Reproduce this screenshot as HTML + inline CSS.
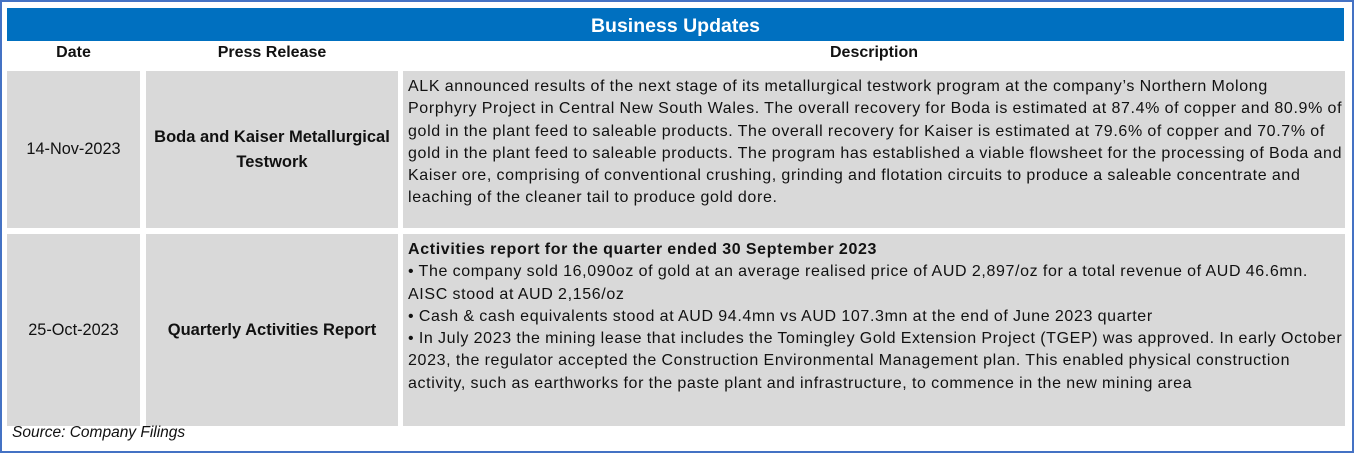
<!DOCTYPE html>
<html><head><meta charset="utf-8"><style>
*{box-sizing:border-box}
body{margin:0;width:1354px;height:453px;background:#fff;font-family:"Liberation Sans",Arial,sans-serif;color:#111;overflow:hidden;position:relative}
.frame{position:absolute;left:0;top:0;width:1354px;height:453px;border:2px solid #4472c4}
.hdr{position:absolute;left:7px;top:8px;width:1337px;height:33px;background:#0070c0;color:#fff;font-weight:bold;font-size:19.5px;text-align:center;line-height:36px}
.ch{position:absolute;top:44px;height:20px;font-weight:bold;font-size:16px;text-align:center}
.cell{position:absolute;background:#d9d9d9}
.c1{left:7px;width:133px}.c2{left:146px;width:252px}.c3{left:403px;width:942px}
.center{display:flex;align-items:center;justify-content:center;text-align:center;font-size:16.3px;line-height:25px}
.desc{font-size:16px;line-height:22.3px;padding:5px 0 0 5px;white-space:nowrap;letter-spacing:0.64px;word-spacing:-0.5px}
.src{position:absolute;left:12px;top:424px;font-size:15.5px;font-style:italic}
</style></head><body>
<div class="frame"></div>
<div class="hdr">Business Updates</div>
<div class="ch" style="left:7px;width:133px">Date</div>
<div class="ch" style="left:146px;width:252px">Press Release</div>
<div class="ch" style="left:403px;width:942px">Description</div>

<div class="cell c1 center" style="top:71px;height:157px">14-Nov-2023</div>
<div class="cell c2 center" style="top:71px;height:157px;font-weight:bold;font-size:16.5px">Boda and Kaiser Metallurgical<br>Testwork</div>
<div class="cell c3 desc" style="top:71px;height:157px">ALK announced results of the next stage of its metallurgical testwork program at the company’s Northern Molong<br>Porphyry Project in Central New South Wales. The overall recovery for Boda is estimated at 87.4% of copper and 80.9% of<br>gold in the plant feed to saleable products. The overall recovery for Kaiser is estimated at 79.6% of copper and 70.7% of<br>gold in the plant feed to saleable products. The program has established a viable flowsheet for the processing of Boda and<br>Kaiser ore, comprising of conventional crushing, grinding and flotation circuits to produce a saleable concentrate and<br>leaching of the cleaner tail to produce gold dore.</div>

<div class="cell c1 center" style="top:234px;height:192px">25-Oct-2023</div>
<div class="cell c2 center" style="top:234px;height:192px;font-weight:bold;font-size:16.5px">Quarterly Activities Report</div>
<div class="cell c3 desc" style="top:234px;height:192px"><b>Activities report for the quarter ended 30 September 2023</b><br>• The company sold 16,090oz of gold at an average realised price of AUD 2,897/oz for a total revenue of AUD 46.6mn.<br>AISC stood at AUD 2,156/oz<br>• Cash &amp; cash equivalents stood at AUD 94.4mn vs AUD 107.3mn at the end of June 2023 quarter<br>• In July 2023 the mining lease that includes the Tomingley Gold Extension Project (TGEP) was approved. In early October<br>2023, the regulator accepted the Construction Environmental Management plan. This enabled physical construction<br>activity, such as earthworks for the paste plant and infrastructure, to commence in the new mining area</div>

<div class="src">Source: Company Filings</div>
</body></html>
